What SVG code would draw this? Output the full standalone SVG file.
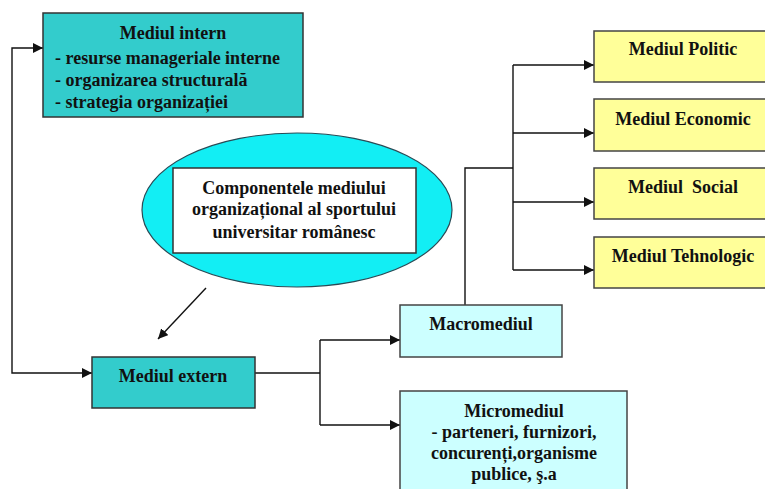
<svg xmlns="http://www.w3.org/2000/svg" width="765" height="489" viewBox="0 0 765 489">
<defs>
<style>
.t{font-family:"Liberation Serif","Times New Roman",serif;font-weight:bold;font-size:18px;fill:#111;text-anchor:middle}
.l{text-anchor:start}
.teal{fill:#33CCCC;stroke:#333;stroke-width:1.5}
.lc{fill:#CCFFFF;stroke:#444;stroke-width:1.5}
.yl{fill:#FFFF99;stroke:#444;stroke-width:1.5}
.c{fill:none;stroke:#111;stroke-width:1.4}
</style>
<marker id="ah" markerWidth="11" markerHeight="10" refX="10" refY="5" orient="auto-start-reverse" markerUnits="userSpaceOnUse">
<path d="M0,0 L10,5 L0,10 Z" fill="#111"/>
</marker>
</defs>
<rect width="765" height="489" fill="#fff"/>

<g id="connectors">
<path class="c" d="M92,373 H12 V48 H43" marker-start="url(#ah)" marker-end="url(#ah)"/>
<path class="c" d="M255,373 H320"/>
<path class="c" d="M320,340 V425"/>
<path class="c" d="M320,340 H400" marker-end="url(#ah)"/>
<path class="c" d="M320,425 H400" marker-end="url(#ah)"/>
<path class="c" d="M465,305 V168 H513"/>
<path class="c" d="M513,65 V270"/>
<path class="c" d="M513,65 H594" marker-end="url(#ah)"/>
<path class="c" d="M513,133 H594" marker-end="url(#ah)"/>
<path class="c" d="M513,202 H594" marker-end="url(#ah)"/>
<path class="c" d="M513,270 H594" marker-end="url(#ah)"/>
<path class="c" d="M206,288 L158,339" stroke-width="1.2" marker-end="url(#ah)"/>
</g>

<g id="intern">
<rect class="teal" x="43" y="13" width="260" height="104"/>
<text class="t" x="173" y="39">Mediul intern</text>
<text class="t l" x="55" y="64">- resurse manageriale interne</text>
<text class="t l" x="55" y="86">- organizarea structurală</text>
<text class="t l" x="55" y="108">- strategia organizației</text>
</g>

<g id="componente">
<ellipse cx="297" cy="210" rx="155" ry="77" fill="#12EEF4" stroke="#2a4a55" stroke-width="1.2"/>
<rect x="173" y="168" width="243" height="85" fill="#fff" stroke="#333" stroke-width="1.5"/>
<text class="t" x="294" y="194">Componentele mediului</text>
<text class="t" x="294" y="215">organizațional al sportului</text>
<text class="t" x="294" y="238">universitar românesc</text>
</g>

<g id="extern">
<rect class="teal" x="92" y="357" width="163" height="51"/>
<text class="t" x="173" y="382">Mediul extern</text>
</g>

<g id="macro">
<rect class="lc" x="400" y="305" width="162" height="52"/>
<text class="t" x="481" y="330">Macromediul</text>
</g>

<g id="micro">
<rect class="lc" x="400" y="391" width="227" height="110"/>
<text class="t" x="514" y="417">Micromediul</text>
<text class="t" x="514" y="438">- parteneri, furnizori,</text>
<text class="t" x="514" y="459">concurenți,organisme</text>
<text class="t" x="514" y="480">publice, ş.a</text>
</g>

<g id="politic">
<rect class="yl" x="594" y="31" width="180" height="51"/>
<text class="t" x="683" y="55">Mediul Politic</text>
</g>
<g id="economic">
<rect class="yl" x="594" y="99" width="180" height="52"/>
<text class="t" x="683" y="125">Mediul Economic</text>
</g>
<g id="social">
<rect class="yl" x="594" y="168" width="180" height="51"/>
<text class="t" x="683" y="193" xml:space="preserve">Mediul  Social</text>
</g>
<g id="tehnologic">
<rect class="yl" x="594" y="237" width="180" height="51"/>
<text class="t" x="683" y="262">Mediul Tehnologic</text>
</g>
</svg>
